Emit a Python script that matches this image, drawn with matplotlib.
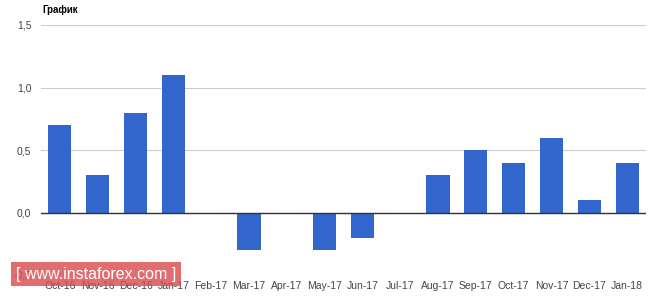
import numpy as np
import matplotlib.pyplot as plt

plt.rcParams['font.family'] = ['Liberation Sans', 'DejaVu Sans']

# данные
months = ["Oct-16", "Nov-16", "Dec-16", "Jan-17", "Feb-17", "Mar-17", "Apr-17", "May-17",
          "Jun-17", "Jul-17", "Aug-17", "Sep-17", "Oct-17", "Nov-17", "Dec-17", "Jan-18"]
values = [0.7, 0.3, 0.8, 1.1, 0.0, -0.3, 0.0, -0.3,
          -0.2, 0.0, 0.3, 0.5, 0.4, 0.6, 0.1, 0.4]
yticks = [-0.5, 0.0, 0.5, 1.0, 1.5]
ytick_labels = ["-0,5", "0,0", "0,5", "1,0", "1,5"]

fig = plt.figure(figsize=(6.65, 2.97), dpi=100)
ax = fig.add_axes([41 / 665, 22 / 297, 605 / 665, 250 / 297])

x = np.arange(len(months))
ax.bar(x, values, width=0.61, color="#3366cc", zorder=3)

ax.set_xlim(-0.5, len(months) - 0.5)
ax.set_ylim(-0.5, 1.5)
ax.set_yticks(yticks)
ax.set_yticklabels(ytick_labels)
ax.set_xticks(x)
ax.set_xticklabels(months)
ax.tick_params(length=0, labelsize=7.5, colors="#444444")
ax.tick_params(axis="y", pad=7)
ax.tick_params(axis="x", pad=4)

for y in yticks:
    ax.axhline(y, color="#cccccc", lw=0.8, zorder=1)
ax.axhline(0, color="#333333", lw=1, zorder=4)

for s in ax.spines.values():
    s.set_visible(False)

fig.text(42 / 665, 1 - 10 / 297, "График", fontsize=7, fontweight="bold",
         va="center", ha="left", color="#000000")

# водяной знак
fig.text(16 / 665, 1 - 274 / 297, "[ www.instaforex.com ]", fontsize=11.5, color="white",
         va="center", ha="left",
         bbox=dict(boxstyle="square,pad=0.3", fc="#d94a4e", ec="none", alpha=0.8),
         zorder=10)

plt.savefig("out.png", dpi=100)
